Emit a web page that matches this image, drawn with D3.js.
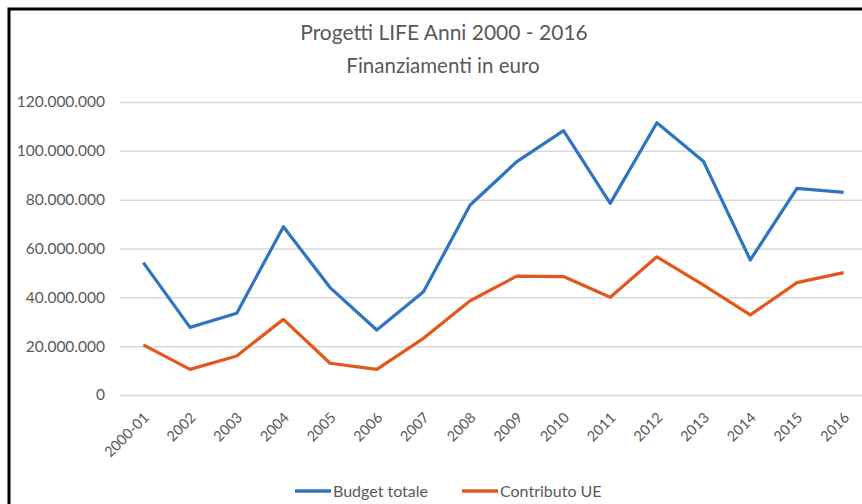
<!DOCTYPE html>
<html>
<head>
<meta charset="utf-8">
<script src="https://cdn.jsdelivr.net/npm/d3@7"></script>
<style>
  body { margin: 0; background: #fff; }
  text { font-family: Lato, "Open Sans", sans-serif; fill: #595959; }
</style>
</head>
<body>
<svg id="chart"></svg>
<script>
const years = ["2000-01", "2002", "2003", "2004", "2005", "2006", "2007", "2008",
  "2009", "2010", "2011", "2012", "2013", "2014", "2015", "2016"];
const budgetTotale = [54200000, 27700000, 33500000, 68900000, 44000000, 26600000, 42300000, 77800000,
  95600000, 108300000, 78500000, 111500000, 95600000, 55300000, 84600000, 83000000];
const contributoUE = [20500000, 10500000, 16000000, 31000000, 13000000, 10500000, 23200000, 38600000,
  48700000, 48500000, 40000000, 56600000, 45000000, 32800000, 46000000, 50100000];
const yTicks = [0, 20000000, 40000000, 60000000, 80000000, 100000000, 120000000];
const seriesNames = ["Budget totale", "Contributo UE"];

const width = 862, height = 504;
const svg = d3.select("#chart").attr("width", width).attr("height", height);
const colors = ["#2E75C0", "#E3571C"];

const itFormat = d3.formatLocale({decimal: ",", thousands: ".", grouping: [3], currency: ["", ""]}).format(",");

// outer frame (only top / left visible in the crop)
svg.append("rect")
  .attr("x", 9).attr("y", 9)
  .attr("width", 1000).attr("height", 600)
  .attr("fill", "none")
  .attr("stroke", "#000")
  .attr("stroke-width", 3);

const x = d3.scaleBand().domain(years).range([120, 867]);
const y = d3.scaleLinear().domain([0, 120000000]).range([395, 102]);
const cx = d => x(d) + x.bandwidth() / 2;

// title
svg.append("text")
  .attr("x", 444).attr("y", 40)
  .attr("text-anchor", "middle")
  .attr("font-size", 21)
  .text("Progetti LIFE Anni 2000 - 2016");
svg.append("text")
  .attr("x", 443).attr("y", 73)
  .attr("text-anchor", "middle")
  .attr("font-size", 20.5)
  .text("Finanziamenti in euro");

// grid + y labels
const yAxis = svg.append("g")
  .attr("transform", "translate(120,0)")
  .call(d3.axisLeft(y).tickValues(yTicks).tickFormat(itFormat).tickSize(-750).tickPadding(15));
yAxis.select(".domain").remove();
yAxis.selectAll(".tick line").attr("stroke", "#d9d9d9").attr("stroke-width", 1.5);
yAxis.selectAll(".tick text")
  .attr("font-size", 15.5)
  .attr("font-family", "Lato, sans-serif")
  .attr("fill", "#595959");

// x labels
const xAxis = svg.append("g")
  .attr("transform", "translate(0,395)")
  .call(d3.axisBottom(x).tickSize(0).tickPadding(0));
xAxis.select(".domain").remove();
xAxis.selectAll(".tick text")
  .attr("font-size", 14.5)
  .attr("font-family", "Lato, sans-serif")
  .attr("fill", "#595959")
  .attr("text-anchor", "end")
  .attr("dy", "0.35em")
  .attr("transform", "translate(3,20) rotate(-45)");

// lines
const line = d3.line()
  .x((d, i) => cx(years[i]))
  .y(d => y(d));

[budgetTotale, contributoUE].forEach((s, i) => {
  svg.append("path")
    .datum(s)
    .attr("fill", "none")
    .attr("stroke", colors[i])
    .attr("stroke-width", 3.2)
    .attr("stroke-linejoin", "round")
    .attr("d", line);
});

// legend
const legendX = [295, 462];
const legend = svg.selectAll(".legend")
  .data(seriesNames).enter()
  .append("g")
    .attr("class", "legend")
    .attr("transform", (d, i) => `translate(${legendX[i]}, 491)`);
legend.append("line")
  .attr("x1", 0).attr("x2", 36)
  .attr("stroke", (d, i) => colors[i])
  .attr("stroke-width", 3.5);
legend.append("text")
  .attr("x", 38)
  .attr("dy", "0.35em")
  .attr("font-size", 16)
  .text(d => d);
</script>
</body>
</html>
